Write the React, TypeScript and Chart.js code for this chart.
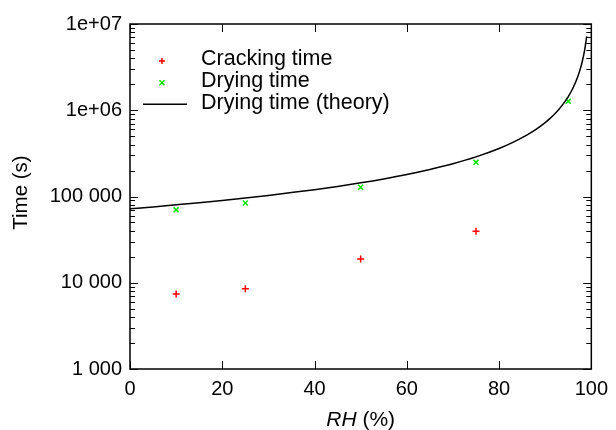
import React, { useEffect, useRef } from 'react';
import { Chart, registerables } from 'chart.js';

Chart.register(...registerables);

// ---- data ----
const rhCracking = [10, 25, 50, 75];
const timeCracking = [7400, 8500, 18800, 39500];

const rhDrying = [10, 25, 50, 75, 95];
const timeDrying = [70000, 84000, 128000, 249000, 1270000];

const rhTheory = [0, 5, 10, 15, 20, 25, 30, 35, 40, 45, 50, 55, 60, 65, 70, 75, 80, 83, 86, 88, 90, 91, 92, 93, 94, 95, 96, 97, 97.5, 98, 98.5, 99];
const timeTheory = [72000, 75800, 80000, 84700, 90000, 96000, 103000, 111000, 120000, 131000, 144000, 160000, 180000, 206000, 240000, 288000, 360000, 424000, 514000, 600000, 720000, 800000, 900000, 1030000, 1200000, 1440000, 1800000, 2400000, 2880000, 3600000, 4800000, 7200000];

const xTickValues = [0, 20, 40, 60, 80, 100];
const yDecades = [1000, 10000, 100000, 1000000, 10000000];
const yDecadeLabels = ['1 000', '10 000', '100 000', '1e+06', '1e+07'];
const yMinorMultipliers = [2, 3, 4, 5, 6, 7, 8, 9];

const legendLabels = ['Cracking time', 'Drying time', 'Drying time (theory)'];
const xTitleItalic = 'RH';
const xTitleRest = ' (%)';
const yTitle = 'Time (s)';

const FONT = "'Liberation Sans', Arial, Helvetica, sans-serif";
const RED = '#ff0000';
const GREEN = '#00e000';

const framePlugin = {
  id: 'frameTicks',
  afterDatasetsDraw(chart: any) {
    const { ctx, chartArea: a, scales } = chart;
    const xs = scales.x;
    const ys = scales.y;
    ctx.save();
    ctx.strokeStyle = '#000';
    ctx.lineWidth = 1;
    ctx.beginPath();
    for (const v of xTickValues) {
      const px = Math.round(xs.getPixelForValue(v)) + 0.5;
      ctx.moveTo(px, a.bottom);
      ctx.lineTo(px, a.bottom - 8);
      ctx.moveTo(px, a.top);
      ctx.lineTo(px, a.top + 8);
    }
    for (const d of yDecades) {
      const py = Math.round(ys.getPixelForValue(d)) + 0.5;
      ctx.moveTo(a.left, py);
      ctx.lineTo(a.left + 8, py);
      ctx.moveTo(a.right, py);
      ctx.lineTo(a.right - 8, py);
      if (d < 10000000) {
        for (const m of yMinorMultipliers) {
          const pm = Math.round(ys.getPixelForValue(d * m)) + 0.5;
          ctx.moveTo(a.left, pm);
          ctx.lineTo(a.left + 5, pm);
          ctx.moveTo(a.right, pm);
          ctx.lineTo(a.right - 5, pm);
        }
      }
    }
    ctx.stroke();
    ctx.lineWidth = 1.5;
    ctx.strokeRect(a.left, a.top, a.width, a.height);
    ctx.restore();
  },
  afterDraw(chart: any) {
    const { ctx, chartArea: a } = chart;
    ctx.save();
    ctx.fillStyle = '#000';
    // y title
    ctx.font = `20.5px ${FONT}`;
    ctx.save();
    ctx.translate(27, (a.top + a.bottom) / 2 - 4);
    ctx.rotate(-Math.PI / 2);
    ctx.textAlign = 'center';
    ctx.textBaseline = 'alphabetic';
    ctx.fillText(yTitle, 0, 0);
    ctx.restore();
    // x title with italic RH
    ctx.textBaseline = 'alphabetic';
    ctx.textAlign = 'left';
    ctx.font = `italic 21px ${FONT}`;
    const w1 = ctx.measureText(xTitleItalic).width;
    ctx.font = `21px ${FONT}`;
    const w2 = ctx.measureText(xTitleRest).width;
    const cx = (a.left + a.right) / 2;
    const x0 = cx - (w1 + w2) / 2;
    ctx.font = `italic 21px ${FONT}`;
    ctx.fillText(xTitleItalic, x0, 425.5);
    ctx.font = `21px ${FONT}`;
    ctx.fillText(xTitleRest, x0 + w1, 425.5);

    // legend
    const mx = a.left + 32;
    const tx = a.left + 71;
    const rowY = [a.top + 37, a.top + 58.7, a.top + 80.3];
    ctx.lineWidth = 1.5;
    // + marker
    ctx.strokeStyle = RED;
    ctx.beginPath();
    ctx.moveTo(mx - 3, rowY[0]);
    ctx.lineTo(mx + 3, rowY[0]);
    ctx.moveTo(mx, rowY[0] - 3);
    ctx.lineTo(mx, rowY[0] + 3);
    ctx.stroke();
    // x marker
    ctx.strokeStyle = GREEN;
    ctx.beginPath();
    ctx.moveTo(mx - 2.5, rowY[1] - 2.5);
    ctx.lineTo(mx + 2.5, rowY[1] + 2.5);
    ctx.moveTo(mx - 2.5, rowY[1] + 2.5);
    ctx.lineTo(mx + 2.5, rowY[1] - 2.5);
    ctx.stroke();
    // line
    ctx.strokeStyle = '#000';
    ctx.beginPath();
    ctx.moveTo(a.left + 13, rowY[2]);
    ctx.lineTo(a.left + 57, rowY[2]);
    ctx.stroke();
    ctx.fillStyle = '#000';
    ctx.font = `21.5px ${FONT}`;
    legendLabels.forEach((t, i) => ctx.fillText(t, tx, rowY[i] + 4.3));
    ctx.restore();
  },
};

export default function App() {
  const ref = useRef<HTMLCanvasElement>(null);
  useEffect(() => {
    document.body.style.margin = '0';
    const canvas = ref.current;
    if (!canvas) return;
    Chart.defaults.font.family = FONT;
    Chart.defaults.font.size = 20;
    Chart.defaults.color = '#000';
    const chart = new Chart(canvas, {
      type: 'scatter',
      data: {
        datasets: [
          {
            label: legendLabels[2],
            data: rhTheory.map((x, i) => ({ x, y: timeTheory[i] })),
            showLine: true,
            borderColor: '#000',
            borderWidth: 1.5,
            pointRadius: 0,
            cubicInterpolationMode: 'monotone',
            fill: false,
          },
          {
            label: legendLabels[0],
            data: rhCracking.map((x, i) => ({ x, y: timeCracking[i] })),
            pointStyle: 'cross',
            pointRadius: 3.5,
            borderColor: RED,
            backgroundColor: RED,
            pointBorderWidth: 1.5,
          },
          {
            label: legendLabels[1],
            data: rhDrying.map((x, i) => ({ x, y: timeDrying[i] })),
            pointStyle: 'crossRot',
            pointRadius: 3.5,
            borderColor: GREEN,
            backgroundColor: GREEN,
            pointBorderWidth: 1.5,
          },
        ],
      },
      options: {
        responsive: false,
        animation: false,
        layout: { padding: { top: 24, right: 22, left: 0, bottom: 0 } },
        plugins: { legend: { display: false }, tooltip: { enabled: false } },
        scales: {
          x: {
            type: 'linear',
            min: 0,
            max: 100,
            afterBuildTicks: (s: any) => {
              s.ticks = xTickValues.map((v) => ({ value: v }));
            },
            afterFit: (s: any) => {
              s.height = 61;
            },
            grid: { display: false, drawTicks: false },
            border: { display: false },
            ticks: { padding: 8, maxRotation: 0, autoSkip: false, font: { size: 20 } },
          },
          y: {
            type: 'logarithmic',
            min: 1000,
            max: 10000000,
            afterBuildTicks: (s: any) => {
              s.ticks = yDecades.map((v) => ({ value: v }));
            },
            afterFit: (s: any) => {
              s.width = 130;
            },
            grid: { display: false, drawTicks: false },
            border: { display: false },
            ticks: {
              padding: 8,
              autoSkip: false,
              font: { size: 20 },
              callback: (v: any) => {
                const i = yDecades.indexOf(Number(v));
                return i >= 0 ? yDecadeLabels[i] : '';
              },
            },
          },
        },
      },
      plugins: [framePlugin],
    });
    return () => chart.destroy();
  }, []);
  return (
    <div style={{ width: 616, height: 430 }}>
      <canvas ref={ref} width={616} height={430} />
    </div>
  );
}
